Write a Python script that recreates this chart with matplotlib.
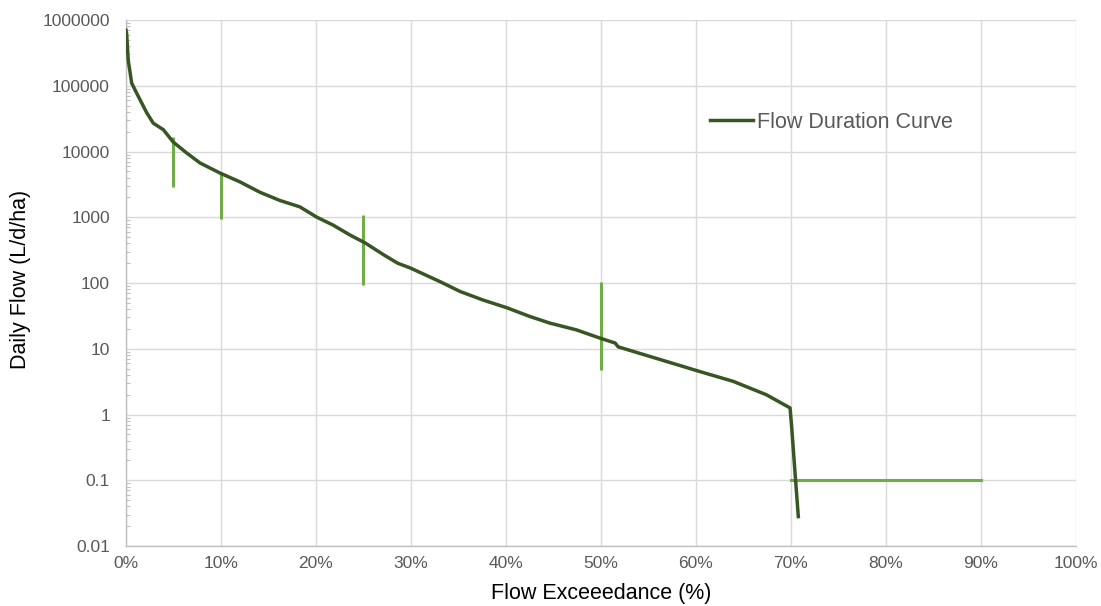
import numpy as np
import matplotlib
matplotlib.use('Agg')
import matplotlib.pyplot as plt
from matplotlib.ticker import FuncFormatter, LogLocator, FixedLocator, NullFormatter

plt.rcParams['font.family'] = ['Liberation Sans', 'DejaVu Sans']

# flow duration curve
exceed_pct = [0.0, 0.07, 0.24, 0.6, 1.13, 2.18, 2.87, 3.93, 4.98, 6.39, 7.79,
              9.9, 12.0, 14.1, 16.2, 18.3, 20.1, 21.8, 23.6, 25.2, 27.1, 28.6,
              29.9, 33.05, 35.2, 37.6, 40.1, 42.5, 44.6, 47.4, 49.9, 51.5, 51.8,
              55.2, 58.6, 60.4, 63.9, 67.4, 69.9, 70.07, 70.4, 70.77]
daily_flow = [700000, 630000, 245000, 110000, 77000, 39000, 27000, 21500, 13900,
              9500, 6700, 4700, 3450, 2400, 1800, 1440, 1000, 760, 535, 405,
              270, 200, 170, 105, 74, 55, 42, 31, 24.6, 19.4, 14.5, 12.2, 10.7,
              7.6, 5.4, 4.5, 3.2, 2.0, 1.26, 0.65, 0.145, 0.028]

# percentile markers
marker_pct = [5, 10, 25, 50]
marker_low = [2900, 950, 93, 4.8]
marker_high = [16800, 4900, 1070, 105]

# zero-flow line
zero_x = [70, 90]
zero_y = [0.1, 0.1]

dark_green = '#375623'
light_green = '#70AD47'
grid_col = '#D9D9D9'
text_col = '#595959'

fig = plt.figure(figsize=(11.01, 6.06), dpi=100)
ax = fig.add_axes([0.1144, 0.099, 0.8629, 0.868])

ax.vlines(marker_pct, marker_low, marker_high, color=light_green, lw=2.2, zorder=2)
ax.plot(zero_x, zero_y, color=light_green, lw=2.2, zorder=2)
ax.plot(exceed_pct, daily_flow, color=dark_green, lw=2.5, zorder=3,
        label='Flow Duration Curve')

ax.set_yscale('log')
ax.set_xlim(0, 100)
ax.set_ylim(0.01, 1000000)
ax.xaxis.set_major_locator(FixedLocator(np.arange(0, 101, 10)))
ax.xaxis.set_major_formatter(FuncFormatter(lambda v, p: f'{int(v)}%'))
ax.xaxis.set_minor_formatter(NullFormatter())
ax.yaxis.set_major_locator(LogLocator(base=10, numticks=20))
ax.yaxis.set_minor_locator(LogLocator(base=10, subs=np.arange(2, 10), numticks=20))
ax.yaxis.set_major_formatter(FuncFormatter(lambda v, p: f'{v:g}' if v < 1 else f'{int(round(v))}'))
ax.yaxis.set_minor_formatter(NullFormatter())

ax.grid(True, which='major', color=grid_col, lw=1.0)
ax.set_axisbelow(True)
for s in ['top', 'right']:
    ax.spines[s].set_visible(False)
for s in ['left', 'bottom']:
    ax.spines[s].set_color('#BFBFBF')
    ax.spines[s].set_linewidth(1.0)

ax.tick_params(axis='x', which='major', length=0, labelsize=12.5, colors=text_col, pad=7)
ax.tick_params(axis='y', which='major', length=0, labelsize=12.5, colors=text_col, pad=11.5)
ax.tick_params(axis='y', which='minor', direction='in', length=3, color='#BFBFBF', width=0.8)
ax.tick_params(axis='x', which='minor', length=0)

ax.set_xlabel('Flow Exceeedance (%)', fontsize=15.5, color='#000000', labelpad=9)
ax.set_ylabel('Daily Flow (L/d/ha)', fontsize=15.5, color='#000000', labelpad=5)
ax.yaxis.set_label_coords(-0.1, 0.507)

leg = ax.legend(loc='center left', bbox_to_anchor=(0.615, 0.806), frameon=False,
                fontsize=15.5, handlelength=2.0, handletextpad=0.15,
                borderpad=0, borderaxespad=0)
for t in leg.get_texts():
    t.set_color(text_col)

fig.savefig('out.png', dpi=100)
